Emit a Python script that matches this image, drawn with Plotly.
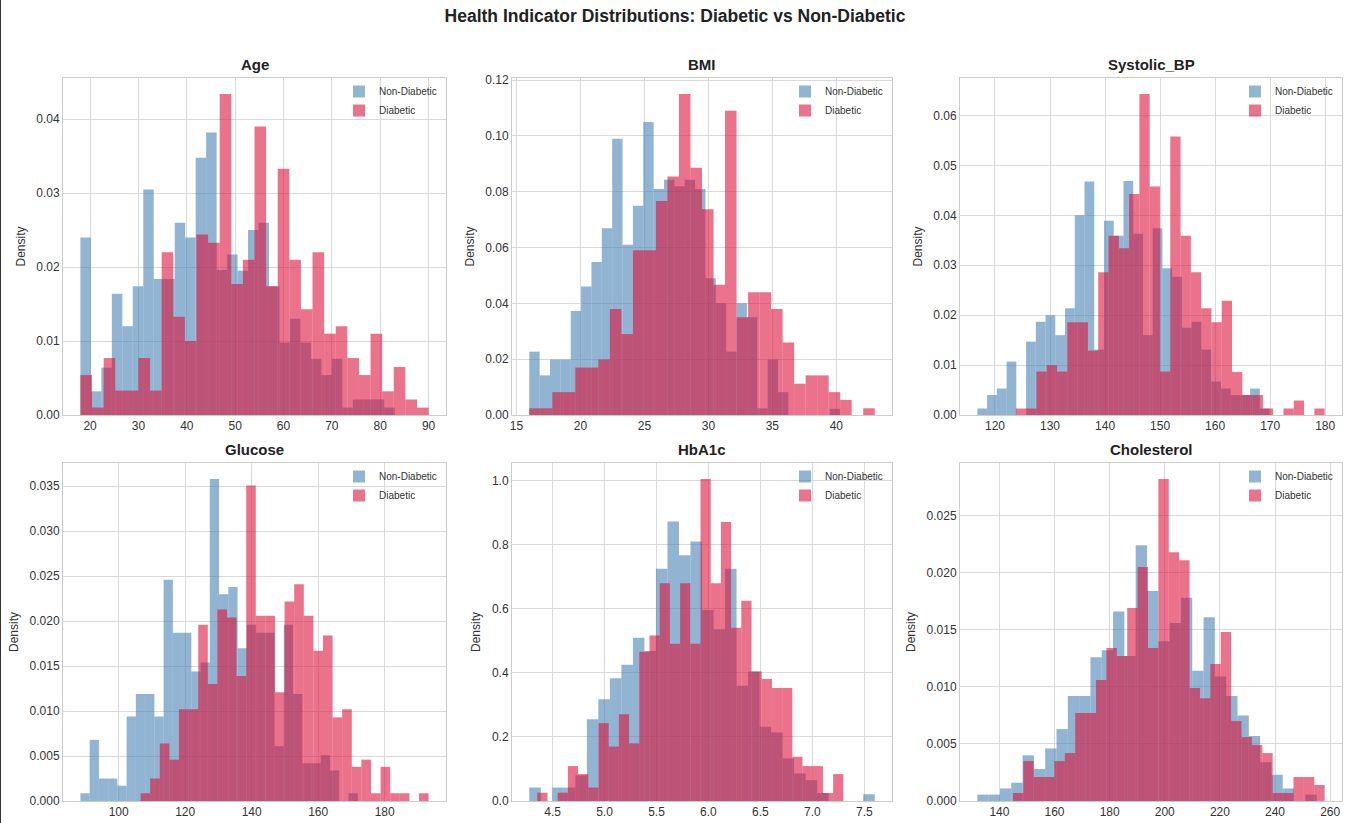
import numpy as np
import plotly.graph_objects as go

W, H = 1350, 823

features = ["Age", "BMI", "Systolic_BP", "Glucose", "HbA1c", "Cholesterol"]
series_names = ["Non-Diabetic", "Diabetic"]

# ---- data: each group's histogram range (min, max) split into 30 equal bins, density per bin ----
age_nondiab_range = [18.0, 83.0]
age_diab_range = [18.0, 90.0]
age_nondiab = [0.024, 0.0032, 0.0064, 0.0164, 0.012, 0.0174, 0.0305, 0.0184, 0.0184, 0.026,
               0.024, 0.0348, 0.0382, 0.0196, 0.0217, 0.0195, 0.025, 0.026, 0.0174, 0.0098,
               0.013, 0.0098, 0.0076, 0.0054, 0.0076, 0.001, 0.0021, 0.0021, 0.0021, 0.001]
age_diab = [0.0054, 0.001, 0.0077, 0.0033, 0.0033, 0.0077, 0.0033, 0.022, 0.0133, 0.01,
            0.0244, 0.0233, 0.0434, 0.0177, 0.021, 0.039, 0.0174, 0.0333, 0.021, 0.0143,
            0.022, 0.011, 0.012, 0.0077, 0.0054, 0.011, 0.0032, 0.0065, 0.0021, 0.001]

bmi_nondiab_range = [16.0, 40.3]
bmi_diab_range = [16.0, 43.0]
bmi_nondiab = [0.0227, 0.0142, 0.0199, 0.0199, 0.0373, 0.046, 0.0548, 0.0669, 0.099, 0.061,
               0.075, 0.105, 0.081, 0.0843, 0.082, 0.0843, 0.081, 0.049, 0.040, 0.0227,
               0.040, 0.035, 0.0024, 0.0199, 0.0082, 0.0, 0.0, 0.0, 0.0, 0.0022]
bmi_diab = [0.0024, 0.0024, 0.0082, 0.0082, 0.017, 0.017, 0.0199, 0.038, 0.029, 0.059,
            0.059, 0.0767, 0.0855, 0.115, 0.0886, 0.0737, 0.0467, 0.109, 0.035, 0.044,
            0.044, 0.038, 0.026, 0.0112, 0.0142, 0.0142, 0.0082, 0.0054, 0.0, 0.0024]

sbp_nondiab_range = [116.8, 169.9]
sbp_diab_range = [123.8, 179.9]
sbp_nondiab = [0.0013, 0.004, 0.0053, 0.0107, 0.0, 0.0147, 0.0187, 0.02, 0.016, 0.0214,
               0.04, 0.0468, 0.0131, 0.0389, 0.0359, 0.0469, 0.0363, 0.016, 0.0374, 0.0294,
               0.0277, 0.0175, 0.0187, 0.0131, 0.0067, 0.0053, 0.004, 0.004, 0.0053, 0.0013]
sbp_diab = [0.0013, 0.0013, 0.0087, 0.01, 0.0087, 0.0186, 0.0186, 0.0129, 0.0286, 0.0359,
            0.0334, 0.0443, 0.0643, 0.0458, 0.0087, 0.0558, 0.0359, 0.0286, 0.0214, 0.0186,
            0.0229, 0.0086, 0.004, 0.004, 0.0013, 0.0, 0.0013, 0.0029, 0.0, 0.0013]

glu_nondiab_range = [88.5, 171.9]
glu_diab_range = [106.6, 193.2]
glu_nondiab = [0.00086, 0.0068, 0.0025, 0.0025, 0.0017, 0.0094, 0.0119, 0.0119, 0.0094, 0.0246,
               0.0187, 0.0187, 0.0144, 0.0154, 0.0358, 0.023, 0.0238, 0.017, 0.0196, 0.0187,
               0.0187, 0.0061, 0.0196, 0.0119, 0.0042, 0.0042, 0.0051, 0.0034, 0.0, 0.00086]
glu_diab = [0.00086, 0.0025, 0.0064, 0.0046, 0.0102, 0.0102, 0.0196, 0.013, 0.0213, 0.0204,
            0.0139, 0.0351, 0.0206, 0.0206, 0.0121, 0.0222, 0.0241, 0.0206, 0.0167, 0.0184,
            0.0093, 0.0102, 0.0038, 0.0046, 0.00086, 0.0038, 0.00086, 0.00086, 0.0, 0.00086]

hba_nondiab_range = [4.276, 7.6]
hba_diab_range = [4.353, 7.298]
hba_nondiab = [0.042, 0.0, 0.042, 0.042, 0.08, 0.255, 0.318, 0.383, 0.425, 0.51,
               0.468, 0.725, 0.873, 0.767, 0.81, 0.596, 0.536, 0.725, 0.36, 0.404,
               0.232, 0.214, 0.133, 0.086, 0.065, 0.025, 0.0, 0.0, 0.0, 0.021]
hba_diab = [0.026, 0.0, 0.026, 0.109, 0.084, 0.042, 0.243, 0.17, 0.271, 0.18,
            0.466, 0.517, 0.68, 0.491, 0.68, 0.491, 1.005, 0.68, 0.871, 0.541,
            0.625, 0.404, 0.381, 0.353, 0.353, 0.138, 0.109, 0.109, 0.025, 0.084]

chol_nondiab_range = [132.0, 255.1]
chol_diab_range = [144.9, 258.0]
chol_nondiab = [0.00056, 0.00056, 0.0011, 0.0016, 0.004, 0.0028, 0.0046, 0.0063, 0.0092, 0.0092,
                0.0126, 0.0132, 0.0166, 0.0127, 0.0224, 0.0184, 0.014, 0.0156, 0.0178, 0.0114,
                0.0161, 0.0109, 0.0092, 0.0075, 0.0057, 0.0034, 0.0023, 0.0011, 0.0, 0.00056]
chol_diab = [0.0007, 0.0035, 0.0021, 0.0021, 0.0035, 0.0042, 0.0077, 0.0077, 0.0106, 0.0134,
             0.0127, 0.0169, 0.0205, 0.0134, 0.0282, 0.0218, 0.0211, 0.0099, 0.009, 0.012,
             0.0148, 0.007, 0.0056, 0.0049, 0.0042, 0.0007, 0.0007, 0.0021, 0.0021, 0.0014]

# tick settings per panel
x_dticks = [10, 5, 10, 20, 0.5, 20]
x_formats = ["d", "d", "d", "d", ".1f", "d"]
y_dticks = [0.01, 0.02, 0.01, 0.005, 0.2, 0.005]
y_formats = [".2f", ".2f", ".2f", ".3f", ".1f", ".3f"]

panels = [
    (age_nondiab_range, age_nondiab, age_diab_range, age_diab),
    (bmi_nondiab_range, bmi_nondiab, bmi_diab_range, bmi_diab),
    (sbp_nondiab_range, sbp_nondiab, sbp_diab_range, sbp_diab),
    (glu_nondiab_range, glu_nondiab, glu_diab_range, glu_diab),
    (hba_nondiab_range, hba_nondiab, hba_diab_range, hba_diab),
    (chol_nondiab_range, chol_nondiab, chol_diab_range, chol_diab),
]

colors = ["rgba(70,130,180,0.6)", "rgba(220,20,60,0.6)"]

# layout geometry (pixels)
col_px = [(63, 446), (512, 892), (960, 1342)]
row_px = [(78, 415), (463, 801)]

FONT = "Liberation Sans, Arial, Helvetica, sans-serif"
TXT = "#333333"

fig = go.Figure()
layout = dict(
    width=W, height=H,
    margin=dict(l=0, r=0, t=0, b=0),
    paper_bgcolor="white", plot_bgcolor="white",
    barmode="overlay",
    font=dict(family=FONT, color=TXT, size=12),
    title=dict(text="<b>Health Indicator Distributions: Diabetic vs Non-Diabetic</b>",
               x=0.5, xanchor="center", y=1 - 16 / H, yanchor="middle",
               font=dict(size=17.5, color="#222222", family=FONT)),
    annotations=[],
    shapes=[dict(type="line", xref="paper", yref="paper", x0=0, x1=0, y0=0, y1=1,
                 line=dict(color="#333333", width=2))],
)

for i, feat in enumerate(features):
    r, c = divmod(i, 3)
    x0p, x1p = col_px[c]
    ytop, ybot = row_px[r]
    xdom = [x0p / W, x1p / W]
    ydom = [1 - ybot / H, 1 - ytop / H]
    sfx = "" if i == 0 else str(i + 1)
    leg = "legend" + sfx

    nd_range, nd_vals, d_range, d_vals = panels[i]
    all_max = 0.0
    for k, (rng, vals) in enumerate([(nd_range, nd_vals), (d_range, d_vals)]):
        edges = np.linspace(rng[0], rng[1], len(vals) + 1)
        centers = (edges[:-1] + edges[1:]) / 2
        width = edges[1] - edges[0]
        all_max = max(all_max, max(vals))
        fig.add_trace(go.Bar(
            x=centers, y=vals, width=width,
            marker=dict(color=colors[k], line=dict(width=0)),
            name=series_names[k],
            xaxis="x" + sfx, yaxis="y" + sfx,
            legend=leg, showlegend=True,
        ))

    lo = min(nd_range[0], d_range[0])
    hi = max(nd_range[1], d_range[1])
    pad = (hi - lo) * 0.05

    axis_common = dict(
        showgrid=True, gridcolor="#d9d9d9", gridwidth=1,
        showline=True, linecolor="#cccccc", linewidth=1, mirror=True,
        ticks="", zeroline=False, automargin=False,
        tickfont=dict(size=12, color=TXT, family=FONT),
    )
    layout["xaxis" + sfx] = dict(
        domain=xdom, anchor="y" + sfx, range=[lo - pad, hi + pad],
        dtick=x_dticks[i], tick0=0, tickformat=x_formats[i], **axis_common,
    )
    layout["yaxis" + sfx] = dict(
        domain=ydom, anchor="x" + sfx, range=[0, all_max * 1.05],
        dtick=y_dticks[i], tick0=0, tickformat=y_formats[i],
        title=dict(text="Density", font=dict(size=12, color=TXT, family=FONT), standoff=8),
        **axis_common,
    )
    layout[leg] = dict(
        x=(x1p - 4) / W, xanchor="right", y=1 - (ytop - 1) / H, yanchor="top",
        bgcolor="rgba(0,0,0,0)", borderwidth=0,
        font=dict(size=10, color="#333333", family=FONT),
        tracegroupgap=0, itemwidth=30,
    )
    layout["annotations"].append(dict(
        text="<b>" + feat + "</b>", xref="paper", yref="paper",
        x=(xdom[0] + xdom[1]) / 2, y=ydom[1], xanchor="center", yanchor="bottom",
        yshift=3, showarrow=False,
        font=dict(size=15, color="#222222", family=FONT),
    ))

fig.update_layout(**layout)
fig.write_html(
    "out.html",
    config={"displayModeBar": False},
    post_script="document.body.style.margin='0';document.body.style.padding='0';",
)
